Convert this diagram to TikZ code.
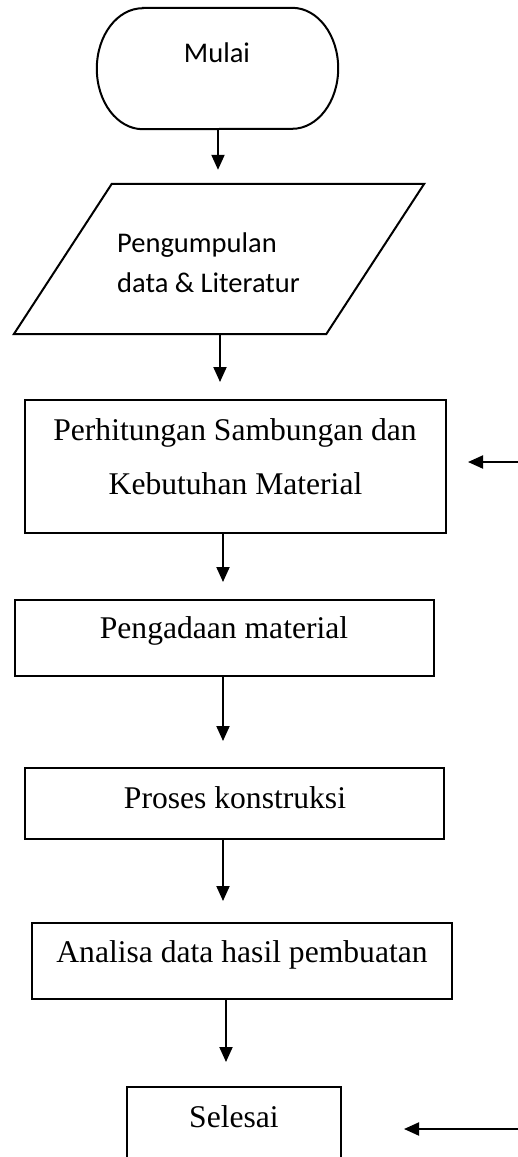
\documentclass[tikz,border=0pt]{standalone}
\usepackage{fontspec}
\setmainfont{Liberation Serif}
\newfontfamily\calibrifont{Carlito}
\usetikzlibrary{arrows.meta}
\begin{document}
\begin{tikzpicture}[x=1pt,y=-1pt,
  shapeline/.style={draw=black, line width=2pt},
  boxnode/.style={shapeline, rectangle, inner sep=0pt},
  ghost/.style={rectangle, inner sep=0pt},
  arr/.style={line width=2pt, -{Triangle[length=15pt,width=13pt]}},
  serif/.style={font=\fontsize{31.6}{38}\selectfont, inner sep=0pt, anchor=base},
  sans/.style={font=\calibrifont\fontsize{28.5}{34}\selectfont, inner sep=0pt, anchor=base}]
\useasboundingbox (0,0) rectangle (518,1157);
\clip (0,0) rectangle (518,1157);
% terminator
\node[ghost, minimum width=241pt, minimum height=121pt] (start) at (217.5,68.5) {};
\draw[shapeline] ([xshift=46pt]start.north west) -- ([xshift=-46pt]start.north east)
  arc[start angle=90, end angle=-90, x radius=46pt, y radius=60.5pt]
  -- ([xshift=46pt]start.south west)
  arc[start angle=270, end angle=90, x radius=46pt, y radius=60.5pt] -- cycle;
\node[sans] (startlbl) at (217,62) {Mulai};
% parallelogram
\node[ghost, minimum width=312pt, minimum height=150pt] (data) at (219,259) {};
\draw[shapeline] ([xshift=49pt]data.north west) -- ([xshift=49pt]data.north east)
  -- ([xshift=-49pt]data.south east) -- ([xshift=-49pt]data.south west) -- cycle;
\node[sans, anchor=base west] (datalbl1) at (117,252) {Pengumpulan};
\node[sans, anchor=base west] (datalbl2) at (117,292) {data \& Literatur};
% process boxes
\node[boxnode, minimum width=421pt, minimum height=133pt] (calc) at (235.5,466.5) {};
\node[serif] (calclbl1) at (235,440) {Perhitungan Sambungan dan};
\node[serif] (calclbl2) at (235.5,494) {Kebutuhan Material};
\node[boxnode, minimum width=419pt, minimum height=76pt] (buy) at (224.5,638) {};
\node[serif] (buylbl) at (224,638) {Pengadaan material};
\node[boxnode, minimum width=419pt, minimum height=71pt] (build) at (234.5,803.5) {};
\node[serif] (buildlbl) at (235,808) {Proses konstruksi};
\node[boxnode, minimum width=420pt, minimum height=76pt] (anal) at (242,961) {};
\node[serif] (anallbl) at (242,962) {Analisa data hasil pembuatan};
\node[boxnode, minimum width=214pt, minimum height=100pt] (done) at (234,1137) {};
\node[serif] (donelbl) at (234,1127) {Selesai};
% connectors
\draw[arr, shorten >=14pt] ([xshift=0.5pt]start.south) -- ([xshift=0.5pt]start.south |- data.north);
\draw[arr, shorten >=17pt] ([xshift=1pt]data.south) -- ([xshift=1pt]data.south |- calc.north);
\draw[arr, shorten >=17pt] ([xshift=-12.5pt]calc.south) -- ([xshift=-12.5pt]calc.south |- buy.north);
\draw[arr, shorten >=26pt] ([xshift=-1.5pt]buy.south) -- ([xshift=-1.5pt]buy.south |- build.north);
\draw[arr, shorten >=21pt] ([xshift=-11.5pt]build.south) -- ([xshift=-11.5pt]build.south |- anal.north);
\draw[arr, shorten >=24pt] ([xshift=-16pt]anal.south) -- ([xshift=-16pt]anal.south |- done.north);
% side arrows
\coordinate (r1) at (518,462);
\coordinate (r2) at (518,1129);
\draw[arr, shorten >=21pt] (r1) -- (calc.east |- r1);
\draw[arr, shorten >=62pt] (r2) -- (done.east |- r2);
\end{tikzpicture}
\end{document}
